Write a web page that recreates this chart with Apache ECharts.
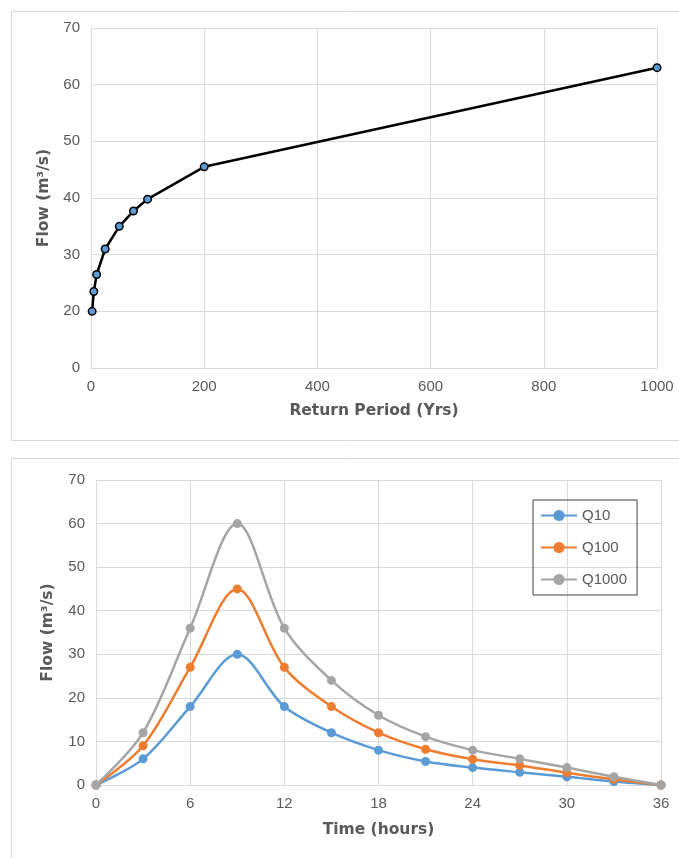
<!DOCTYPE html>
<html>
<head>
<meta charset="utf-8">
<script src="https://cdn.jsdelivr.net/npm/echarts@6/dist/echarts.min.js"></script>
<style>
html,body{margin:0;padding:0;background:#fff;}
#c{width:679px;height:858px;}
</style>
</head>
<body>
<div id="c"></div>
<script>
// Top chart: peak flow vs return period
const returnPeriods = [2, 5, 10, 25, 50, 75, 100, 200, 1000];
const peakFlow = [20, 23.5, 26.5, 31, 35, 37.7, 39.8, 45.5, 63];

// Bottom chart: hydrographs
const hours = [0, 3, 6, 9, 12, 15, 18, 21, 24, 27, 30, 33, 36];
const q10 = [0, 6, 18, 30, 18, 12, 8, 5.4, 4, 2.9, 1.9, 0.8, 0];
const q100 = [0, 9, 27, 45, 27, 18, 12, 8.2, 5.9, 4.5, 2.8, 1.3, 0];
const q1000 = [0, 12, 36, 60, 36, 24, 16, 11.1, 8, 6, 4, 1.9, 0];
const seriesNames = ['Q10', 'Q100', 'Q1000'];
const seriesColors = ['#5B9BD5', '#ED7D31', '#A5A5A5'];

const font = '"Liberation Sans", Arial, sans-serif';
const titleFont = '"DejaVu Sans", Verdana, sans-serif';
const txt = '#595959';
const gridCol = '#d9d9d9';

function pairs(xs, ys) { return xs.map((x, i) => [x, ys[i]]); }

const axisLabel = { color: txt, fontSize: 15, fontFamily: font, margin: 11 };
const nameStyle = { color: txt, fontSize: 15.5, fontWeight: 'bold', fontFamily: titleFont };

const chart = echarts.init(document.getElementById('c'), null, { renderer: 'canvas' });
chart.setOption({
  animation: false,
  backgroundColor: '#fff',
  textStyle: { fontFamily: font },
  graphic: [
    { type: 'rect', shape: { x: 11.5, y: 11.5, width: 700, height: 429 }, style: { fill: 'none', stroke: '#d9d9d9', lineWidth: 1 }, z: -1 },
    { type: 'rect', shape: { x: 11.5, y: 458.5, width: 700, height: 500 }, style: { fill: 'none', stroke: '#d9d9d9', lineWidth: 1 }, z: -1 }
  ],
  grid: [
    { left: 91, top: 28, width: 566, height: 340 },
    { left: 96, top: 480, width: 565, height: 305 }
  ],
  xAxis: [
    {
      gridIndex: 0, type: 'value', min: 0, max: 1000, interval: 200,
      name: 'Return Period (Yrs)', nameLocation: 'middle', nameGap: 35, nameTextStyle: nameStyle,
      axisLine: { show: true, lineStyle: { color: gridCol } }, axisTick: { show: false },
      axisLabel: Object.assign({}, axisLabel, { formatter: v => String(v) }),
      splitLine: { show: true, lineStyle: { color: gridCol } }
    },
    {
      gridIndex: 1, type: 'value', min: 0, max: 36, interval: 6,
      name: 'Time (hours)', nameLocation: 'middle', nameGap: 37, nameTextStyle: nameStyle,
      axisLine: { show: true, lineStyle: { color: gridCol } }, axisTick: { show: false },
      axisLabel: axisLabel,
      splitLine: { show: true, lineStyle: { color: gridCol } }
    }
  ],
  yAxis: [
    {
      gridIndex: 0, type: 'value', min: 10, max: 70, interval: 10,
      name: 'Flow (m³/s)', nameLocation: 'middle', nameGap: 39, nameTextStyle: nameStyle,
      axisLabel: Object.assign({}, axisLabel, { formatter: v => (v === 10 ? '0' : String(v)) }),
      axisLine: { show: true, lineStyle: { color: gridCol } }, axisTick: { show: false },
      splitLine: { show: true, lineStyle: { color: gridCol } }
    },
    {
      gridIndex: 1, type: 'value', min: 0, max: 70, interval: 10,
      name: 'Flow (m³/s)', nameLocation: 'middle', nameGap: 40, nameTextStyle: nameStyle,
      axisLine: { show: true, lineStyle: { color: gridCol } }, axisTick: { show: false },
      axisLabel: axisLabel,
      splitLine: { show: true, lineStyle: { color: gridCol } }
    }
  ],
  legend: {
    data: seriesNames,
    orient: 'vertical',
    left: 533, top: 500,
    padding: [8, 10, 8, 7],
    itemGap: 17,
    itemWidth: 36, itemHeight: 14,
    borderColor: '#404040', borderWidth: 1,
    textStyle: { color: txt, fontSize: 15, fontFamily: font }
  },
  series: [
    {
      type: 'line', xAxisIndex: 0, yAxisIndex: 0,
      data: pairs(returnPeriods, peakFlow),
      lineStyle: { color: '#000', width: 2.5 },
      symbol: 'circle', symbolSize: 7.5,
      itemStyle: { color: '#5B9BD5', borderColor: '#000', borderWidth: 1.5 },
      z: 3
    }
  ].concat([q10, q100, q1000].map((d, i) => ({
    name: seriesNames[i],
    type: 'line', xAxisIndex: 1, yAxisIndex: 1,
    data: pairs(hours, d),
    smooth: 0.33,
    lineStyle: { color: seriesColors[i], width: 2.5 },
    symbol: 'circle', symbolSize: 9,
    itemStyle: { color: seriesColors[i], borderWidth: 0 },
    z: 3 + i
  })))
});
</script>
</body>
</html>
